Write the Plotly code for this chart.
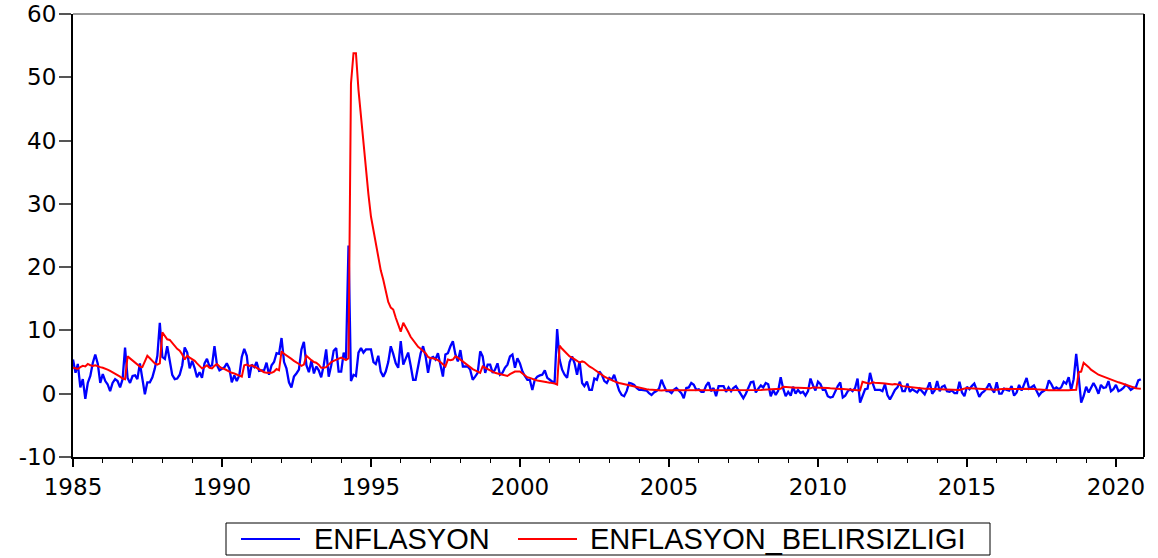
import plotly.graph_objects as go
import pandas as pd

start_month = "1985-01-01"
series_names = ["ENFLASYON", "ENFLASYON_BELIRSIZLIGI"]
series_colors = ["#0000FF", "#FF0000"]
y_ticks = [-10, 0, 10, 20, 30, 40, 50, 60]
y_tick_labels = ["-10", "0", "10", "20", "30", "40", "50", "60"]

enflasyon = [
    5.4, 3.3, 4.7, 1.0, 2.3, -0.8, 1.7, 2.8, 4.9, 6.2, 4.7, 1.7,      # 1985
    3.1, 2.0, 1.5, 0.4, 1.7, 2.3, 2.0, 1.0, 2.3, 7.3, 2.5, 1.7,       # 1986
    2.8, 2.9, 2.3, 4.8, 2.4, -0.1, 1.8, 1.8, 2.6, 4.0, 6.0, 11.2,     # 1987
    5.8, 5.5, 7.5, 5.2, 3.0, 2.3, 2.4, 3.0, 4.5, 7.3, 6.5, 4.0,       # 1988
    5.2, 4.0, 2.6, 3.4, 2.5, 4.8, 5.5, 4.3, 4.5, 7.5, 4.5, 3.7,       # 1989
    3.9, 4.2, 4.8, 4.0, 1.8, 2.9, 2.0, 2.9, 5.8, 7.1, 6.0, 2.5,       # 1990
    4.6, 4.2, 5.0, 3.6, 3.7, 3.7, 4.9, 3.0, 4.5, 5.0, 6.4, 6.3,       # 1991
    8.8, 5.0, 4.0, 1.8, 1.0, 2.7, 3.2, 3.8, 7.0, 8.2, 4.5, 3.4,       # 1992
    5.2, 3.2, 4.3, 3.7, 2.6, 4.5, 7.0, 2.7, 4.5, 6.8, 7.2, 3.5,       # 1993
    3.5, 6.5, 5.5, 23.4, 2.0, 3.0, 2.8, 6.5, 7.2, 6.5, 7.0, 7.0,      # 1994
    7.0, 5.0, 4.7, 6.0, 3.5, 2.7, 3.5, 5.0, 7.5, 6.3, 4.8, 4.1,       # 1995
    8.3, 4.6, 5.6, 6.5, 4.5, 2.2, 2.2, 4.5, 6.4, 7.5, 5.9, 3.3,       # 1996
    5.6, 5.8, 5.4, 6.4, 4.3, 2.7, 6.2, 6.4, 7.5, 8.3, 6.2, 5.1,       # 1997
    6.9, 4.3, 4.3, 4.3, 3.8, 2.2, 2.7, 3.3, 6.7, 5.9, 3.3, 4.6,       # 1998
    4.6, 3.3, 3.8, 4.8, 3.0, 3.3, 4.1, 4.6, 5.9, 6.2, 4.1, 5.6,       # 1999
    4.8, 3.5, 2.8, 2.2, 2.2, 0.6, 2.2, 2.7, 2.9, 3.0, 3.7, 2.5,       # 2000
    2.2, 1.9, 1.8, 10.2, 5.4, 3.8, 3.0, 2.5, 5.0, 5.9, 4.8, 3.0,      # 2001
    5.1, 1.7, 1.2, 1.9, 0.6, 0.6, 2.4, 2.2, 3.5, 3.0, 2.0, 1.7,       # 2002
    2.5, 2.2, 3.0, 1.9, 0.5, -0.2, -0.4, 0.4, 1.7, 1.6, 1.4, 0.9,     # 2003
    0.6, 0.6, 0.6, 0.5, 0.1, -0.2, 0.2, 0.4, 0.8, 2.2, 1.2, 0.4,      # 2004
    0.4, 0.1, 0.6, 0.9, 0.5, 0.1, -0.7, 0.9, 1.0, 1.7, 1.4, 0.6,      # 2005
    0.7, 0.3, 0.3, 1.3, 1.8, 0.4, 0.9, -0.4, 1.2, 1.2, 1.2, 0.3,      # 2006
    1.0, 0.4, 0.9, 1.2, 0.5, -0.2, -0.7, 0.0, 1.0, 1.8, 1.9, 0.2,     # 2007
    0.8, 1.3, 1.0, 1.7, 1.5, -0.4, 0.6, -0.2, 0.5, 2.6, 0.8, -0.4,    # 2008
    0.3, -0.3, 1.1, 0.0, 0.6, 0.1, 0.3, -0.3, 0.4, 2.4, 1.3, 0.5,     # 2009
    1.9, 1.5, 0.6, 0.6, -0.4, -0.6, -0.5, 0.4, 1.2, 1.8, -0.6, -0.3,  # 2010
    0.4, 0.7, 0.4, 0.9, 2.4, -1.4, -0.4, 0.7, 0.8, 3.3, 1.7, 0.6,     # 2011
    0.6, 0.6, 0.4, 1.5, -0.2, -0.9, -0.2, 0.6, 1.0, 1.9, 0.4, 0.4,    # 2012
    1.6, 0.3, 0.7, 0.4, 0.2, 0.8, 0.3, -0.1, 0.8, 1.8, 0.0, 0.5,      # 2013
    2.0, 0.4, 1.1, 1.3, 0.4, 0.3, 0.5, 0.1, 0.1, 1.9, 0.2, -0.4,      # 2014
    1.1, 0.7, 1.2, 1.6, 0.6, -0.5, 0.1, 0.4, 0.9, 1.6, 0.7, 0.2,      # 2015
    1.8, 0.0, 0.0, 0.8, 0.6, 0.5, 1.2, -0.3, 0.2, 1.4, 0.5, 1.6,      # 2016
    2.5, 0.8, 1.0, 1.3, 0.5, -0.3, 0.2, 0.5, 0.7, 2.1, 1.5, 0.7,      # 2017
    1.0, 0.7, 1.0, 1.9, 1.6, 2.6, 0.6, 2.3, 6.3, 2.7, -1.4, -0.4,     # 2018
    1.1, 0.2, 1.0, 1.7, 1.0, 0.0, 1.4, 0.9, 1.0, 2.0, 0.4, 0.7,       # 2019
    1.4, 0.4, 0.6, 0.9, 1.4, 1.1, 0.6, 0.9, 1.0, 2.1, 2.3,            # 2020
]

belirsizlik = [
    4.1, 4.0, 3.9, 4.2, 4.4, 4.3, 4.7, 4.5, 4.4, 4.5, 4.3, 4.2,       # 1985
    4.1, 4.0, 3.8, 3.6, 3.4, 3.2, 3.0, 2.7, 2.4, 2.3, 5.9, 5.6,       # 1986
    5.3, 5.0, 4.7, 4.3, 4.2, 5.1, 6.0, 5.6, 5.2, 4.8, 4.6, 4.8,       # 1987
    9.7, 9.2, 8.6, 8.5, 8.0, 7.6, 7.1, 6.8, 6.2, 5.4, 6.0, 5.7,       # 1988
    5.5, 5.2, 4.8, 4.4, 4.0, 4.2, 4.5, 4.1, 4.0, 4.4, 4.7, 4.3,       # 1989
    4.0, 3.9, 3.7, 3.5, 3.3, 3.2, 3.0, 2.8, 2.7, 4.5, 4.6, 4.4,       # 1990
    4.5, 4.3, 4.1, 3.9, 3.6, 3.4, 3.3, 3.3, 3.3, 3.5, 3.9, 3.7,       # 1991
    6.7, 6.3, 6.0, 5.7, 5.5, 5.2, 5.0, 4.7, 4.4, 4.6, 6.0, 5.6,       # 1992
    5.3, 5.0, 4.9, 4.6, 4.1, 4.1, 4.2, 4.6, 5.0, 5.2, 5.4, 5.6,       # 1993
    5.7, 5.5, 5.3, 5.6, 49.0, 53.8, 53.8, 48.0, 43.5, 39.5, 35.5, 31.5,  # 1994
    28.0, 25.8, 23.8, 21.5, 19.5, 18.0, 16.3, 14.5, 13.6, 13.3, 12.0, 11.0,  # 1995
    9.8, 11.2, 10.6, 9.8, 9.0, 8.5, 7.9, 7.4, 7.1, 6.8, 6.4, 5.8,     # 1996
    5.6, 5.6, 5.5, 5.3, 5.0, 4.6, 4.3, 5.4, 5.3, 5.4, 5.9, 5.7,       # 1997
    5.4, 5.1, 4.8, 4.5, 4.1, 3.9, 3.7, 3.5, 3.3, 4.3, 4.1, 3.8,       # 1998
    3.6, 3.4, 3.3, 3.2, 3.1, 3.0, 2.9, 2.8, 3.1, 3.3, 3.5, 3.5,       # 1999
    3.5, 3.2, 2.9, 2.6, 2.5, 2.3, 2.2, 2.1, 2.0, 1.95, 1.9, 1.8,      # 2000
    1.75, 1.7, 1.6, 1.45, 7.6, 7.1, 6.7, 6.3, 5.9, 5.7, 5.5, 5.2,     # 2001
    4.9, 5.1, 5.0, 4.6, 4.3, 4.1, 3.8, 3.5, 3.2, 2.9, 2.7, 2.5,       # 2002
    2.3, 2.1, 1.9, 1.8, 1.7, 1.6, 1.5, 1.4, 1.3, 1.3, 1.2, 1.1,       # 2003
    1.0, 0.9, 0.8, 0.7, 0.65, 0.6, 0.55, 0.5, 0.5, 0.5, 0.55, 0.55,   # 2004
    0.55, 0.5, 0.5, 0.5, 0.5, 0.5, 0.5, 0.55, 0.55, 0.5, 0.55, 0.55,  # 2005
    0.5, 0.5, 0.5, 0.5, 0.55, 0.6, 0.55, 0.5, 0.5, 0.5, 0.5, 0.5,     # 2006
    0.5, 0.5, 0.5, 0.5, 0.5, 0.5, 0.5, 0.55, 0.5, 0.5, 0.55, 0.6,     # 2007
    0.6, 0.6, 0.62, 0.65, 0.65, 0.7, 0.72, 0.75, 0.75, 0.8, 1.1, 1.05,  # 2008
    1.0, 1.0, 0.98, 0.95, 0.95, 0.92, 0.9, 0.9, 0.88, 0.85, 1.0, 1.0,   # 2009
    1.0, 1.0, 0.95, 0.9, 0.9, 0.85, 0.8, 0.8, 0.75, 0.75, 0.75, 0.7,    # 2010
    0.65, 0.6, 0.6, 0.55, 0.55, 0.5, 1.9, 1.75, 1.65, 1.6, 1.8, 1.75,   # 2011
    1.75, 1.7, 1.65, 1.6, 1.55, 1.5, 1.45, 1.55, 1.5, 1.4, 1.2, 1.15,   # 2012
    1.1, 1.0, 0.95, 0.9, 0.88, 0.85, 0.82, 0.8, 0.78, 0.76, 0.74, 0.72, # 2013
    0.7, 0.68, 0.66, 0.64, 0.62, 0.6, 0.58, 0.56, 0.55, 0.6, 0.7, 0.8,  # 2014
    0.9, 0.88, 0.85, 0.82, 0.78, 0.75, 0.72, 0.7, 0.68, 0.66, 0.65, 0.63,  # 2015
    0.62, 0.7, 0.75, 0.8, 0.78, 0.76, 0.74, 0.72, 0.72, 0.74, 0.76, 0.78,  # 2016
    0.8, 0.8, 0.78, 0.75, 0.7, 0.65, 0.62, 0.6, 0.58, 0.56, 0.55, 0.54,    # 2017
    0.53, 0.53, 0.53, 0.54, 0.55, 0.56, 0.58, 0.6, 0.62, 3.4, 3.5, 4.9,    # 2018
    4.6, 4.2, 3.8, 3.5, 3.2, 3.0, 2.85, 2.7, 2.5, 2.3, 2.2, 2.0,           # 2019
    1.9, 1.8, 1.7, 1.55, 1.4, 1.25, 1.1, 0.95, 0.88, 0.83, 0.8,            # 2020
]

dates = pd.date_range(start_month, periods=len(enflasyon), freq="MS")

fig = go.Figure()
fig.add_trace(go.Scatter(x=dates, y=enflasyon, mode="lines", name=series_names[0],
                         line=dict(color=series_colors[0], width=2.3)))
fig.add_trace(go.Scatter(x=dates, y=belirsizlik[:len(dates)], mode="lines", name=series_names[1],
                         line=dict(color=series_colors[1], width=2)))

W, H = 1158, 558
# pixel geometry of the plot area
PL, PR, PT, PB = 73, 1144, 14, 457


def px(x):
    return (x - PL) / (PR - PL)


def py(y):
    return (PB - y) / (PB - PT)


tick_font = dict(family="DejaVu Sans", size=23, color="black")
legend_font = dict(family="Liberation Sans, Arial", size=29, color="black")

shapes = [
    dict(type="line", xref="paper", yref="paper", x0=0, x1=1, y0=1, y1=1,
         line=dict(color="#777777", width=1.5)),
    dict(type="line", xref="paper", yref="paper", x0=1, x1=1, y0=0, y1=1,
         line=dict(color="black", width=2)),
    # legend frame
    dict(type="rect", xref="paper", yref="paper", x0=px(226), x1=px(990), y0=py(555), y1=py(523),
         line=dict(color="black", width=1), fillcolor="white"),
]
annotations = []
legend_items = [(241, 300, 312), (518, 577, 588)]
for (lx0, lx1, tx), name, col in zip(legend_items, series_names, series_colors):
    shapes.append(dict(type="line", xref="paper", yref="paper", x0=px(lx0), x1=px(lx1),
                       y0=py(539), y1=py(539), line=dict(color=col, width=2)))
    annotations.append(dict(xref="paper", yref="paper", x=px(tx), y=py(539), text=name,
                            showarrow=False, xanchor="left", yanchor="middle",
                            font=legend_font))

fig.update_layout(
    width=W, height=H,
    margin=dict(l=PL, r=W - PR, t=PT, b=H - PB, autoexpand=False),
    paper_bgcolor="white", plot_bgcolor="white",
    showlegend=False,
    xaxis=dict(
        type="date", automargin=False,
        range=["1985-01-01", "2020-12-10"],
        tick0="1985-01-01", dtick="M60", tickformat="%Y",
        ticks="outside", ticklen=8, tickwidth=1.5, tickcolor="black",
        minor=dict(dtick="M12", ticks="outside", ticklen=4, tickwidth=1.2, tickcolor="black", showgrid=False),
        showline=True, linecolor="black", linewidth=2,
        showgrid=False, zeroline=False,
        tickfont=tick_font,
    ),
    yaxis=dict(
        automargin=False,
        range=[-10, 60], tickvals=y_ticks, ticktext=y_tick_labels,
        ticks="outside", ticklen=12, tickwidth=1.5, tickcolor="#555555",
        ticklabelstandoff=-2, ticklabeloverflow="allow",
        showline=True, linecolor="black", linewidth=2,
        showgrid=False, zeroline=False,
        tickfont=tick_font,
    ),
    shapes=shapes,
    annotations=annotations,
)

fig.write_html("out.html", config={"displayModeBar": False},
               post_script="document.body.style.margin='0px';")
